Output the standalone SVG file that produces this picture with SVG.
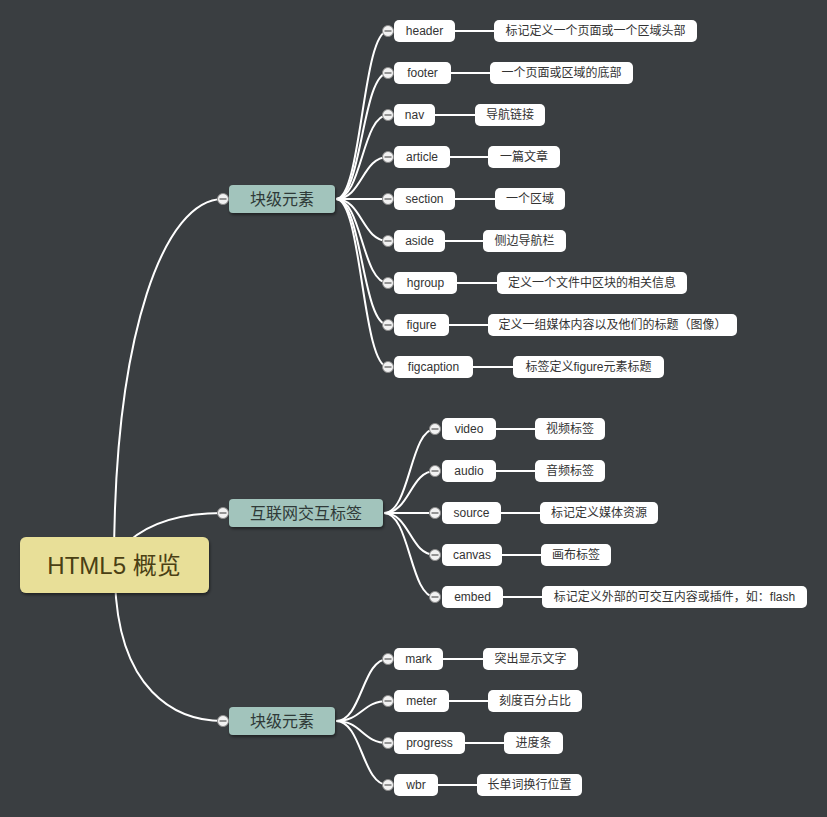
<svg xmlns="http://www.w3.org/2000/svg" width="827" height="817" viewBox="0 0 827 817">
<style>
text{font-family:"Liberation Sans","Noto Sans CJK SC",sans-serif;fill:#333;text-anchor:middle;dominant-baseline:central}
.leaf{fill:#fff}
.lt{font-size:12px}
.br{fill:#a2c4bc}
.bt{font-size:16px;fill:#2f3a38}
.root{fill:#e8df98}
.rt{font-size:24px;fill:#4a4014}
.c{fill:none;stroke:#fff;stroke-width:2}
.col circle{fill:#f2f2f2;stroke:#8a8a8a;stroke-width:1}
.col line{stroke:#555;stroke-width:1.2}
</style>
<defs>
<filter id="sh" x="-10%" y="-20%" width="130%" height="160%"><feDropShadow dx="1" dy="2" stdDeviation="1.5" flood-color="#000" flood-opacity="0.45"/></filter>
<g id="cc" class="col"><circle r="5.5"/><line x1="-3.5" y1="0" x2="3.5" y2="0"/></g>
</defs>
<rect width="827" height="817" fill="#3a3e41"/>
<g id="connectors">
<path class="c" d="M114,565 C114,330 165,199 223,199"/>
<path class="c" d="M128,542 Q160,513 223,513"/>
<path class="c" d="M115,580 C118,690 175,721 223,721"/>
<path class="c" d="M336,199 C362,199 362,31 388,31"/>
<path class="c" d="M336,199 C362,199 362,73 388,73"/>
<path class="c" d="M336,199 C362,199 362,115 388,115"/>
<path class="c" d="M336,199 C362,199 362,157 388,157"/>
<path class="c" d="M336,199 L388,199"/>
<path class="c" d="M336,199 C362,199 362,241 388,241"/>
<path class="c" d="M336,199 C362,199 362,283 388,283"/>
<path class="c" d="M336,199 C362,199 362,325 388,325"/>
<path class="c" d="M336,199 C362,199 362,367 388,367"/>
<path class="c" d="M384,513 C410,513 410,429 435,429"/>
<path class="c" d="M384,513 C410,513 410,471 435,471"/>
<path class="c" d="M384,513 L435,513"/>
<path class="c" d="M384,513 C410,513 410,555 435,555"/>
<path class="c" d="M384,513 C410,513 410,597 435,597"/>
<path class="c" d="M336,721 C362,721 362,659 388,659"/>
<path class="c" d="M336,721 C362,721 362,701 388,701"/>
<path class="c" d="M336,721 C362,721 362,743 388,743"/>
<path class="c" d="M336,721 C362,721 362,785 388,785"/>
<path class="c" d="M455,31H494M451,73H490M435,115H475M450,157H488M455,199H495M445,241H483M457,283H497M449,325H488M473,367H513"/>
<path class="c" d="M496,429H535M496,471H535M501,513H540M502,555H541M503,597H542"/>
<path class="c" d="M443,659H483M449,701H488M465,743H504M438,785H477"/>
</g>
<g id="root"><rect class="root" x="20" y="537" width="189" height="56" rx="6" filter="url(#sh)"/><text class="rt" x="114" y="565">HTML5 概览</text></g>
<g id="b1"><rect class="br" x="229" y="185" width="106" height="28" rx="4" filter="url(#sh)"/><text class="bt" x="282" y="199">块级元素</text><use href="#cc" x="223" y="199"/></g>
<g id="b2"><rect class="br" x="229" y="499" width="154" height="28" rx="4" filter="url(#sh)"/><text class="bt" x="306" y="513">互联网交互标签</text><use href="#cc" x="223" y="513"/></g>
<g id="b3"><rect class="br" x="229" y="707" width="106" height="28" rx="4" filter="url(#sh)"/><text class="bt" x="282" y="721">块级元素</text><use href="#cc" x="223" y="721"/></g>

<g id="header"><rect class="leaf" x="394" y="20" width="61" height="22" rx="5"/><text class="lt" x="424.5" y="31">header</text><use href="#cc" x="388" y="31"/></g>
<g id="header-d"><rect class="leaf" x="494" y="20" width="203" height="22" rx="5"/><text class="lt" x="595.5" y="31">标记定义一个页面或一个区域头部</text></g>
<g id="footer"><rect class="leaf" x="394" y="62" width="57" height="22" rx="5"/><text class="lt" x="422.5" y="73">footer</text><use href="#cc" x="388" y="73"/></g>
<g id="footer-d"><rect class="leaf" x="490" y="62" width="143" height="22" rx="5"/><text class="lt" x="561.5" y="73">一个页面或区域的底部</text></g>
<g id="nav"><rect class="leaf" x="394" y="104" width="41" height="22" rx="5"/><text class="lt" x="414.5" y="115">nav</text><use href="#cc" x="388" y="115"/></g>
<g id="nav-d"><rect class="leaf" x="475" y="104" width="70" height="22" rx="5"/><text class="lt" x="510" y="115">导航链接</text></g>
<g id="article"><rect class="leaf" x="394" y="146" width="56" height="22" rx="5"/><text class="lt" x="422" y="157">article</text><use href="#cc" x="388" y="157"/></g>
<g id="article-d"><rect class="leaf" x="488" y="146" width="72" height="22" rx="5"/><text class="lt" x="524" y="157">一篇文章</text></g>
<g id="section"><rect class="leaf" x="394" y="188" width="61" height="22" rx="5"/><text class="lt" x="424.5" y="199">section</text><use href="#cc" x="388" y="199"/></g>
<g id="section-d"><rect class="leaf" x="495" y="188" width="70" height="22" rx="5"/><text class="lt" x="530" y="199">一个区域</text></g>
<g id="aside"><rect class="leaf" x="394" y="230" width="51" height="22" rx="5"/><text class="lt" x="419.5" y="241">aside</text><use href="#cc" x="388" y="241"/></g>
<g id="aside-d"><rect class="leaf" x="483" y="230" width="83" height="22" rx="5"/><text class="lt" x="524.5" y="241">侧边导航栏</text></g>
<g id="hgroup"><rect class="leaf" x="394" y="272" width="63" height="22" rx="5"/><text class="lt" x="425.5" y="283">hgroup</text><use href="#cc" x="388" y="283"/></g>
<g id="hgroup-d"><rect class="leaf" x="497" y="272" width="190" height="22" rx="5"/><text class="lt" x="592" y="283">定义一个文件中区块的相关信息</text></g>
<g id="figure"><rect class="leaf" x="394" y="314" width="55" height="22" rx="5"/><text class="lt" x="421.5" y="325">figure</text><use href="#cc" x="388" y="325"/></g>
<g id="figure-d"><rect class="leaf" x="488" y="314" width="249" height="22" rx="5"/><text class="lt" x="612.5" y="325">定义一组媒体内容以及他们的标题（图像）</text></g>
<g id="figcaption"><rect class="leaf" x="394" y="356" width="79" height="22" rx="5"/><text class="lt" x="433.5" y="367">figcaption</text><use href="#cc" x="388" y="367"/></g>
<g id="figcaption-d"><rect class="leaf" x="513" y="356" width="151" height="22" rx="5"/><text class="lt" x="588.5" y="367">标签定义figure元素标题</text></g>

<g id="video"><rect class="leaf" x="442" y="418" width="54" height="22" rx="5"/><text class="lt" x="469" y="429">video</text><use href="#cc" x="435" y="429"/></g>
<g id="video-d"><rect class="leaf" x="535" y="418" width="70" height="22" rx="5"/><text class="lt" x="570" y="429">视频标签</text></g>
<g id="audio"><rect class="leaf" x="442" y="460" width="54" height="22" rx="5"/><text class="lt" x="469" y="471">audio</text><use href="#cc" x="435" y="471"/></g>
<g id="audio-d"><rect class="leaf" x="535" y="460" width="70" height="22" rx="5"/><text class="lt" x="570" y="471">音频标签</text></g>
<g id="source"><rect class="leaf" x="442" y="502" width="59" height="22" rx="5"/><text class="lt" x="471.5" y="513">source</text><use href="#cc" x="435" y="513"/></g>
<g id="source-d"><rect class="leaf" x="540" y="502" width="118" height="22" rx="5"/><text class="lt" x="599" y="513">标记定义媒体资源</text></g>
<g id="canvas"><rect class="leaf" x="442" y="544" width="60" height="22" rx="5"/><text class="lt" x="472" y="555">canvas</text><use href="#cc" x="435" y="555"/></g>
<g id="canvas-d"><rect class="leaf" x="541" y="544" width="70" height="22" rx="5"/><text class="lt" x="576" y="555">画布标签</text></g>
<g id="embed"><rect class="leaf" x="442" y="586" width="61" height="22" rx="5"/><text class="lt" x="472.5" y="597">embed</text><use href="#cc" x="435" y="597"/></g>
<g id="embed-d"><rect class="leaf" x="542" y="586" width="265" height="22" rx="5"/><text class="lt" x="674.5" y="597">标记定义外部的可交互内容或插件，如：flash</text></g>

<g id="mark"><rect class="leaf" x="394" y="648" width="49" height="22" rx="5"/><text class="lt" x="418.5" y="659">mark</text><use href="#cc" x="388" y="659"/></g>
<g id="mark-d"><rect class="leaf" x="483" y="648" width="95" height="22" rx="5"/><text class="lt" x="530.5" y="659">突出显示文字</text></g>
<g id="meter"><rect class="leaf" x="394" y="690" width="55" height="22" rx="5"/><text class="lt" x="421.5" y="701">meter</text><use href="#cc" x="388" y="701"/></g>
<g id="meter-d"><rect class="leaf" x="488" y="690" width="94" height="22" rx="5"/><text class="lt" x="535" y="701">刻度百分占比</text></g>
<g id="progress"><rect class="leaf" x="394" y="732" width="71" height="22" rx="5"/><text class="lt" x="429.5" y="743">progress</text><use href="#cc" x="388" y="743"/></g>
<g id="progress-d"><rect class="leaf" x="504" y="732" width="59" height="22" rx="5"/><text class="lt" x="533.5" y="743">进度条</text></g>
<g id="wbr"><rect class="leaf" x="394" y="774" width="44" height="22" rx="5"/><text class="lt" x="416" y="785">wbr</text><use href="#cc" x="388" y="785"/></g>
<g id="wbr-d"><rect class="leaf" x="477" y="774" width="105" height="22" rx="5"/><text class="lt" x="529.5" y="785">长单词换行位置</text></g>
</svg>
